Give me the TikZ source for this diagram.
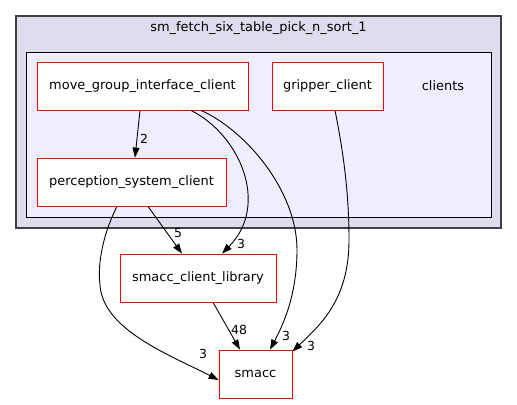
\documentclass[tikz,border=0pt]{standalone}
\usepackage{fontspec}
\setmainfont{DejaVu Sans}
\usetikzlibrary{arrows.meta}
\definecolor{outerfill}{HTML}{DDDDEE}
\definecolor{innerfill}{HTML}{EEEEFF}
\definecolor{outerdraw}{HTML}{404040}
\tikzset{
  dirbox/.style={draw=red, fill=white, line width=0.8bp, minimum height=48bp, inner sep=0pt, font=\fontsize{13}{15}\selectfont},
  dep/.style={draw=black, line width=0.9bp, -{Triangle[length=10bp,width=7bp]}},
  elabel/.style={inner sep=0pt, font=\fontsize{12.5}{14}\selectfont},
  plain/.style={inner sep=0pt, font=\fontsize{13}{15}\selectfont}
}
\begin{document}
\begin{tikzpicture}[x=1bp,y=-1bp]
\useasboundingbox (0,0) rectangle (517,404);
% clusters
\draw[fill=outerfill, draw=outerdraw, line width=1.3bp] (16,16) rectangle (501,228);
\node[plain] (title) at (258.5,28) {sm\_fetch\_six\_table\_pick\_n\_sort\_1};
\draw[fill=innerfill, draw=black, line width=1bp] (26,52) rectangle (491,217);
\node[plain] (clients) at (443,86) {clients};
% nodes
\node[dirbox, minimum width=211bp] (mgic) at (142.5,86) {move\_group\_interface\_client};
\node[dirbox, minimum width=111bp] (grip) at (327.5,86) {gripper\_client};
\node[dirbox, minimum width=189bp] (psc) at (131.5,182) {perception\_system\_client};
\node[dirbox, minimum width=156bp] (scl) at (198,278) {smacc\_client\_library};
\node[dirbox, minimum width=73bp] (smacc) at (255.5,374) {smacc};
% edges
\draw[dep] ([xshift=-2.5bp]mgic.south) -- ([xshift=3.5bp]psc.north);
\node[elabel] (l1) at (144,139) {2};
\draw[dep] ([xshift=48.5bp]mgic.south) .. controls (240,135) and (270,205) .. ([xshift=24bp]scl.north);
\node[elabel] (l2) at (241,244) {3};
\draw[dep] ([xshift=58.5bp]mgic.south) .. controls (245,130) and (297,190) .. (297,250) .. controls (297,295) and (283,325) .. ([xshift=14.5bp]smacc.north);
\node[elabel] (l3) at (286,336) {3};
\draw[dep] ([xshift=7.5bp]grip.south) .. controls (345,160) and (349,200) .. (349,240) .. controls (349,300) and (320,325) .. ([yshift=-2bp]smacc.north east);
\node[elabel] (l4) at (311,346) {3};
\draw[dep] ([xshift=16.5bp]psc.south) -- ([xshift=-16bp]scl.north);
\node[elabel] (l5) at (178,233) {5};
\draw[dep] ([xshift=-14.5bp]psc.south) .. controls (105,230) and (97,260) .. (100,285) .. controls (103,330) and (170,355) .. ([yshift=-6bp]smacc.west);
\node[elabel] (l6) at (203,354) {3};
\draw[dep] ([xshift=15bp]scl.south) -- ([xshift=-15.5bp]smacc.north);
\node[elabel] (l7) at (239,330) {48};
\end{tikzpicture}
\end{document}
